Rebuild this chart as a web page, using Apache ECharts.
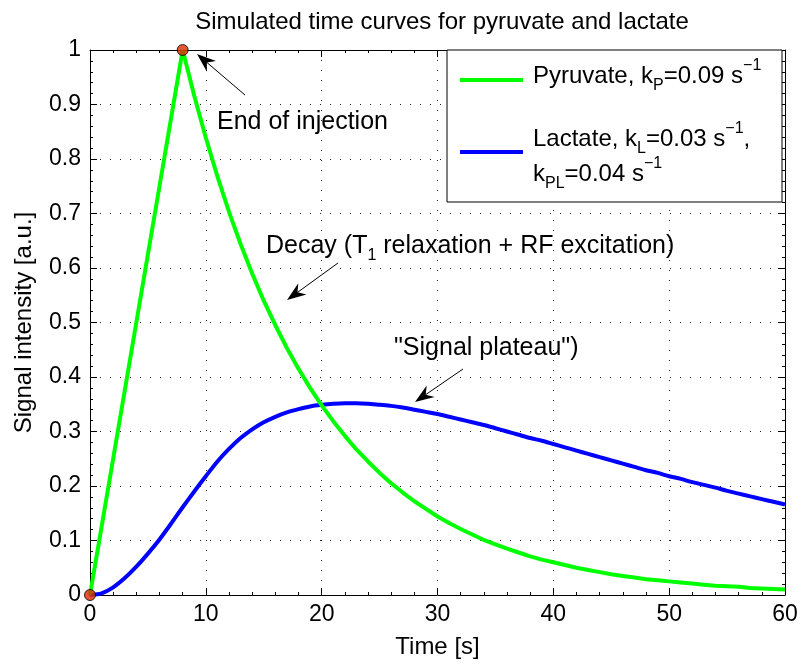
<!DOCTYPE html>
<html><head><meta charset="utf-8">
<script src="https://cdn.jsdelivr.net/npm/echarts@6/dist/echarts.min.js"></script>
<style>html,body{margin:0;padding:0;background:#fff}#c{width:803px;height:664px}</style>
</head><body><div id="c"></div>
<script>
// ---- data ----
const timeS = [0,1,2,3,4,5,6,7,8,9,10,11,12,13,14,15,16,17,18,19,20,21,22,23,24,25,26,27,28,29,30,31,32,33,34,35,36,37,38,39,40,41,42,43,44,45,46,47,48,49,50,51,52,53,54,55,56,57,58,59,60];
const pyruvate = [0,0.125,0.25,0.375,0.5,0.625,0.75,0.875,1.0,0.916,0.839,0.768,0.703,0.644,0.590,0.540,0.495,0.453,0.415,0.380,0.348,0.319,0.292,0.267,0.245,0.224,0.205,0.188,0.172,0.158,0.144,0.132,0.121,0.111,0.101,0.093,0.085,0.078,0.071,0.065,0.060,0.055,0.050,0.046,0.042,0.038,0.035,0.032,0.029,0.027,0.025,0.023,0.021,0.019,0.017,0.016,0.015,0.013,0.012,0.011,0.010];
const lactate = [0,0.003,0.014,0.031,0.052,0.076,0.102,0.131,0.161,0.190,0.218,0.245,0.268,0.288,0.304,0.317,0.327,0.335,0.341,0.346,0.349,0.351,0.352,0.352,0.351,0.349,0.347,0.344,0.340,0.336,0.332,0.327,0.322,0.317,0.312,0.306,0.300,0.294,0.288,0.283,0.277,0.271,0.265,0.259,0.253,0.247,0.241,0.235,0.229,0.224,0.218,0.213,0.207,0.202,0.197,0.191,0.186,0.181,0.176,0.171,0.166];
const markerTimes = [0, 8];
const markerValues = [0, 1];
const xTickStep = 10, xMin = 0, xMax = 60;
const yTickStep = 0.1, yMin = 0, yMax = 1;
const titleText = 'Simulated time curves for pyruvate and lactate';
const xName = 'Time [s]';
const yName = 'Signal intensity [a.u.]';

// ---- chart ----
const FONT = '"Liberation Sans", Arial, Helvetica, sans-serif';
const chart = echarts.init(document.getElementById('c'), null, {renderer: 'canvas'});
const pair = (xs, ys) => xs.map((x, i) => [x, ys[i]]);

const gridLine = {show: true, lineStyle: {type: [1, 9], color: '#222', width: 1}};
const minorY = {show: true, splitNumber: 5, length: 3, lineStyle: {color: '#000'}};
const axisCommon = {
  axisLine: {show: true, onZero: false, lineStyle: {color: '#000', width: 1}},
  axisTick: {show: true, inside: true, length: 7, lineStyle: {color: '#000'}},
  minorTick: {show: true, length: 3, lineStyle: {color: '#000'}},
};

const rich = {
  sub: {fontFamily: FONT, fontSize: 16, lineHeight: 16, verticalAlign: 'bottom'},
  sup: {fontFamily: FONT, fontSize: 16, lineHeight: 16, verticalAlign: 'top'}
};

function arrow(x1, y1, x2, y2) {
  const dx = x2 - x1, dy = y2 - y1, L = Math.hypot(dx, dy), ux = dx / L, uy = dy / L;
  const hl = 19, hw = 7, nb = 13;
  const bx = x2 - ux * hl, by = y2 - uy * hl;
  const nx = x2 - ux * nb, ny = y2 - uy * nb;
  return [
    {type: 'line', shape: {x1, y1, x2: nx, y2: ny}, style: {stroke: '#000', lineWidth: 1}, z: 100},
    {type: 'polygon', shape: {points: [[x2, y2], [bx - uy * hw, by + ux * hw], [nx, ny], [bx + uy * hw, by - ux * hw]]}, style: {fill: '#000'}, z: 100}
  ];
}

function rtext(x, y, text, size) {
  return {type: 'text', x, y, z: 100, style: {
    text, fill: '#000', fontFamily: FONT, fontSize: size, lineHeight: 36,
    verticalAlign: 'middle', align: 'left', rich
  }};
}

const graphics = [].concat(
  // legend box
  [{type: 'rect', shape: {x: 447, y: 50, width: 335, height: 152}, style: {fill: '#fff', stroke: '#000', lineWidth: 1}, z: 90},
   {type: 'line', shape: {x1: 460, y1: 80, x2: 523, y2: 80}, style: {stroke: '#00ff00', lineWidth: 4}, z: 100},
   {type: 'line', shape: {x1: 460, y1: 152, x2: 523, y2: 152}, style: {stroke: '#0000ff', lineWidth: 4}, z: 100},
   rtext(533, 76, 'Pyruvate, k{sub|P}=0.09 s{sup|\u22121}', 24),
   rtext(533, 139, 'Lactate, k{sub|L}=0.03 s{sup|\u22121},', 24),
   rtext(533, 174, 'k{sub|PL}=0.04 s{sup|\u22121}', 24)],
  // annotations
  [rtext(217, 122, 'End of injection', 25)], arrow(245, 95, 197, 54),
  [rtext(266, 246, 'Decay (T{sub|1} relaxation + RF excitation)', 25)], arrow(338, 263, 287, 300),
  [rtext(394, 348, '"Signal plateau")', 25)], arrow(463, 369, 415, 402)
);

chart.setOption({
  animation: false,
  backgroundColor: '#fff',
  title: {text: titleText, left: 437, top: 5, textAlign: 'center',
    textStyle: {fontFamily: FONT, fontSize: 24, fontWeight: 'normal', color: '#000'}},
  grid: {left: 90, right: 18, top: 50, bottom: 67, containLabel: false},
  xAxis: [
    Object.assign({type: 'value', min: xMin, max: xMax, interval: xTickStep, position: 'bottom',
      name: xName, nameLocation: 'middle', nameGap: 40,
      nameTextStyle: {fontFamily: FONT, fontSize: 24, color: '#000'},
      axisLabel: {fontFamily: FONT, fontSize: 23, color: '#000', margin: 8},
      splitLine: gridLine}, axisCommon),
    Object.assign({type: 'value', min: xMin, max: xMax, interval: xTickStep, position: 'top',
      axisLabel: {show: false}, splitLine: {show: false}}, axisCommon)
  ],
  yAxis: [
    Object.assign({type: 'value', min: yMin, max: yMax, interval: yTickStep, position: 'left',
      name: yName, nameLocation: 'middle', nameGap: 54,
      nameTextStyle: {fontFamily: FONT, fontSize: 24, color: '#000'},
      axisLabel: {fontFamily: FONT, fontSize: 23, color: '#000', margin: 9},
      splitLine: gridLine}, axisCommon, {minorTick: minorY}),
    Object.assign({type: 'value', min: yMin, max: yMax, interval: yTickStep, position: 'right',
      axisLabel: {show: false}, splitLine: {show: false}}, axisCommon, {minorTick: minorY})
  ],
  series: [
    {name: 'Lactate', type: 'line', data: pair(timeS, lactate), showSymbol: false, smooth: 0.25,
      lineStyle: {color: '#0000ff', width: 4}, z: 3},
    {name: 'Pyruvate', type: 'line', data: pair(timeS, pyruvate), showSymbol: false, smooth: false,
      lineStyle: {color: '#00ff00', width: 4}, z: 4},
    {name: 'Markers', type: 'scatter', data: pair(markerTimes, markerValues), symbol: 'circle', symbolSize: 11,
      itemStyle: {color: '#dd2a00', borderColor: '#000', borderWidth: 1}, z: 5}
  ],
  graphic: graphics
});
</script></body></html>
